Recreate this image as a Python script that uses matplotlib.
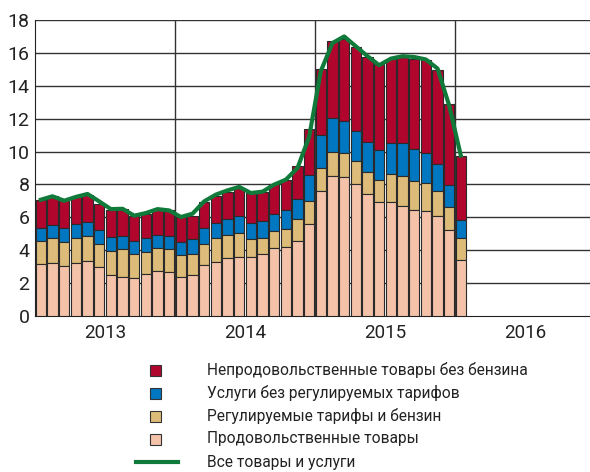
import matplotlib
matplotlib.use('Agg')
import matplotlib.pyplot as plt
from matplotlib.patches import Rectangle
from matplotlib.lines import Line2D
import numpy as np

plt.rcParams['font.family'] = ['Roboto', 'DejaVu Sans']

# месяцы: январь 2013 - январь 2016
food = [3.15, 3.21, 3.05, 3.21, 3.37, 2.97, 2.48, 2.40, 2.32, 2.56, 2.72, 2.66,
        2.40, 2.52, 3.09, 3.29, 3.50, 3.58, 3.58, 3.74, 4.15, 4.19, 4.59, 5.59,
        7.58, 8.50, 8.43, 8.05, 7.42, 6.95, 6.93, 6.69, 6.44, 6.40, 6.06, 5.20,
        3.39]
regulated = [4.59, 4.76, 4.51, 4.72, 4.84, 4.35, 3.98, 4.07, 3.78, 3.92, 4.15, 4.07,
             3.70, 3.78, 4.39, 4.72, 4.92, 5.04, 4.67, 4.76, 5.16, 5.28, 5.89, 6.99,
             9.02, 10.00, 9.92, 9.45, 8.78, 8.29, 8.66, 8.50, 8.23, 8.09, 7.58, 6.63,
             4.74]
services = [5.35, 5.53, 5.33, 5.57, 5.69, 5.20, 4.80, 4.88, 4.59, 4.72, 4.92, 4.88,
            4.53, 4.67, 5.33, 5.65, 5.89, 6.06, 5.65, 5.77, 6.18, 6.42, 7.11, 8.58,
            11.02, 12.05, 11.87, 11.24, 10.57, 10.12, 10.49, 10.51, 10.18, 9.92, 9.27, 7.97,
            5.85]
nonfood = [7.07, 7.28, 7.07, 7.24, 7.38, 6.83, 6.46, 6.50, 6.10, 6.22, 6.46, 6.42,
           6.02, 6.10, 6.91, 7.28, 7.52, 7.78, 7.48, 7.52, 8.05, 8.29, 9.11, 11.38,
           15.00, 16.73, 16.87, 16.38, 15.77, 15.30, 15.61, 15.77, 15.61, 15.55, 14.96, 12.91,
           9.76]
all_goods = [7.07, 7.28, 7.01, 7.24, 7.42, 6.97, 6.50, 6.52, 6.10, 6.26, 6.50, 6.42,
             6.02, 6.22, 6.97, 7.38, 7.64, 7.85, 7.48, 7.56, 7.99, 8.29, 9.00, 10.90,
             14.90, 16.60, 17.00, 16.40, 15.80, 15.25, 15.65, 15.80, 15.75, 15.60, 15.05, 12.80,
             9.75]
years = ['2013', '2014', '2015', '2016']

labels = ['Непродовольственные товары без бензина',
          'Услуги без регулируемых тарифов',
          'Регулируемые тарифы и бензин',
          'Продовольственные товары',
          'Все товары и услуги']
colors = ['#B0062E', '#0077C0', '#DDBB78', '#F3C2A8']
green = '#0F7A3A'

fig = plt.figure(figsize=(5.9, 4.72), dpi=100)
ax = fig.add_axes([35 / 590, 1 - 316 / 472, 555 / 590, 296 / 472])

x = np.arange(len(food))
tops = [nonfood, services, regulated, food]
bottoms = [services, regulated, food, [0] * len(food)]
for top, bot, c in zip(tops, bottoms, colors):
    h = np.array(top) - np.array(bot)
    ax.bar(x, h, bottom=bot, width=0.86, color=c, edgecolor='#2a2a2a', linewidth=0.8, zorder=3)

ax.plot(x, all_goods, color=green, lw=3, zorder=4, solid_joinstyle='round')

ax.set_xlim(-0.5, 47.07)
ax.set_ylim(0, 18)
ax.set_yticks(range(0, 19, 2))
ax.set_yticklabels([str(v) for v in range(0, 19, 2)], fontsize=14, color='#222222')
for v in range(2, 19, 2):
    ax.axhline(v, color='#333333', lw=1, zorder=1)
for b in [11.5, 23.5, 35.5]:
    ax.axvline(b, color='#333333', lw=1, zorder=1)

ax.set_xticks([5.5, 17.5, 29.5, 41.5])
ax.set_xticklabels(years, fontsize=13.5, color='#222222')
ax.tick_params(axis='x', length=0, pad=6)
ax.tick_params(axis='y', length=0, pad=4)
for s in ['top', 'right']:
    ax.spines[s].set_visible(False)
ax.spines['left'].set_color('#222222')
ax.spines['bottom'].set_color('#222222')

# легенда
W, H = 590, 472
rows = [370, 393, 416, 439, 462]
for i, lab in enumerate(labels):
    yc = 1 - rows[i] / H
    if i < 4:
        fig.patches.append(Rectangle((150 / W, yc - 5.5 / H), 11 / W, 11 / H,
                                     transform=fig.transFigure, facecolor=colors[i],
                                     edgecolor='#333333', lw=0.8))
    else:
        fig.lines.append(Line2D([136 / W, 178 / W], [yc, yc], transform=fig.transFigure,
                                color=green, lw=3))
    fig.text(207 / W, yc, lab, fontsize=11.2, va='center', ha='left', color='#222222')

fig.savefig('out.png', dpi=100)
